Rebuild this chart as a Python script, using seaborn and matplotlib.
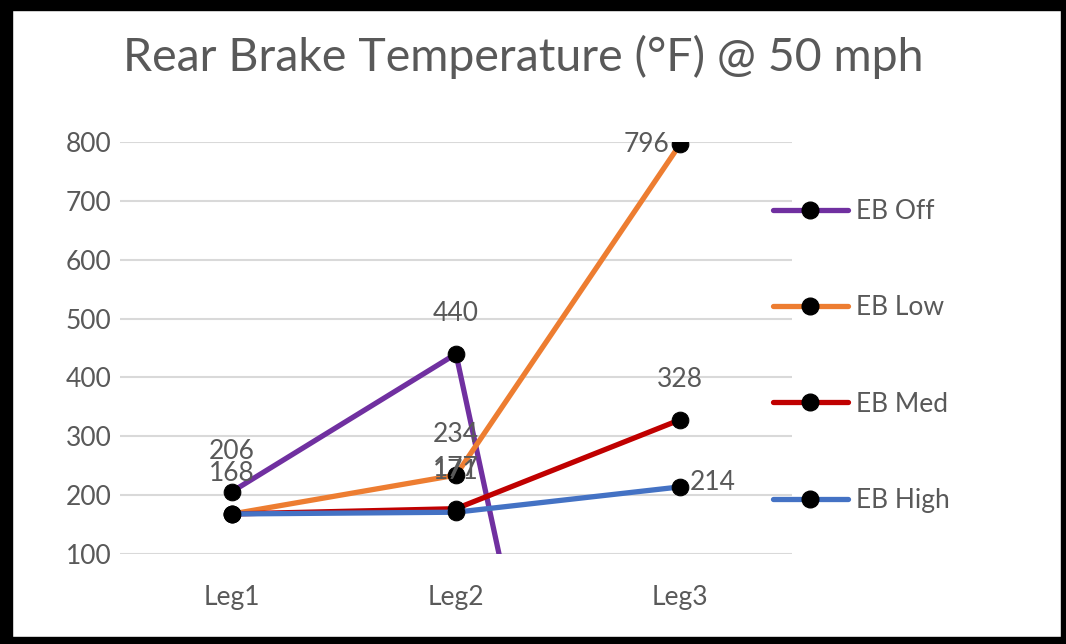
import matplotlib
matplotlib.use("Agg")
import matplotlib.pyplot as plt
import seaborn as sns
import pandas as pd
from matplotlib.patches import Rectangle
from matplotlib.lines import Line2D

# ---- data ----
legs = ["Leg1", "Leg2", "Leg3"]
series_names = ["EB Off", "EB Low", "EB Med", "EB High"]
eb_off = [206, 440, -1330]
eb_low = [168, 234, 796]
eb_med = [168, 177, 328]
eb_high = [168, 171, 214]
y_ticks = [100, 200, 300, 400, 500, 600, 700, 800]
title = "Rear Brake Temperature (°F) @ 50 mph"

colors = ["#7030A0", "#ED7D31", "#C00000", "#4472C4"]
values = [eb_off, eb_low, eb_med, eb_high]
# label placement per series per point: 'above', 'left', 'right', None
placements = [
    ["above", "above", None],
    ["above", "above", "left"],
    [None, "above", "above"],
    [None, "above", "right"],
]

sns.set_theme(style="white")
FONT = ["Lato", "DejaVu Sans"]
plt.rcParams["font.family"] = FONT
TXT = "#595959"
FS = 19

fig = plt.figure(figsize=(10.66, 6.44), dpi=100)
ax = fig.add_axes([120 / 1066, 90 / 644, 672 / 1066, 412 / 644])

frames = []
for name, vals in zip(series_names, values):
    frames.append(pd.DataFrame({"leg": legs, "temp": vals, "series": name}))
df = pd.concat(frames, ignore_index=True)

for name, col in zip(series_names, colors):
    sub = df[df["series"] == name]
    sns.lineplot(data=sub, x="leg", y="temp", ax=ax, color=col, linewidth=3.8,
                 marker="o", markersize=12, markerfacecolor="black",
                 markeredgecolor="black", sort=False, legend=False, zorder=3)

ax.set_xlim(-0.5, 2.5)
ax.set_ylim(100, 800)
ax.set_yticks(y_ticks)
ax.set_yticklabels([str(t) for t in y_ticks])
ax.grid(axis="y", color="#D9D9D9", linewidth=1.5)
ax.grid(axis="x", visible=False)
ax.set_axisbelow(True)
for s in ax.spines.values():
    s.set_visible(False)
ax.tick_params(axis="y", length=0, pad=6, labelsize=FS, labelcolor=TXT)
ax.tick_params(axis="x", length=0, pad=22, labelsize=FS, labelcolor=TXT)
ax.set_xlabel("")
ax.set_ylabel("")

# data labels
for vals, plc in zip(values, placements):
    for i, (v, p) in enumerate(zip(vals, plc)):
        if p is None or v < 100 or v > 800:
            continue
        if p == "above":
            ax.annotate(str(v), (i, v), xytext=(0, 29), textcoords="offset points",
                        ha="center", va="center", fontsize=FS, color=TXT, zorder=4)
        elif p == "left":
            ax.annotate(str(v), (i, v), xytext=(-8, 0), textcoords="offset points",
                        ha="right", va="center", fontsize=FS, color=TXT, zorder=4)
        elif p == "right":
            ax.annotate(str(v), (i, v), xytext=(7, 3), textcoords="offset points",
                        ha="left", va="center", fontsize=FS, color=TXT, zorder=4)

# legend
handles = [Line2D([0], [0], color=c, linewidth=3.8, marker="o", markersize=12,
                  markerfacecolor="black", markeredgecolor="black")
           for c in colors]
fig.legend(handles, series_names, loc="center left",
           bbox_to_anchor=(773 / 1066, 1 - 356 / 644), frameon=False,
           fontsize=FS, labelcolor=TXT, handlelength=2.84, handletextpad=0.3,
           labelspacing=2.7, borderpad=0, borderaxespad=0)

fig.text(523 / 1066, 1 - 57 / 644, title, ha="center", va="center",
         fontsize=33.5, color=TXT)

# black frame around the image
W, H = 1066, 644
def rect(x0, y0, w, h):
    fig.patches.append(Rectangle((x0 / W, 1 - (y0 + h) / H), w / W, h / H,
                                 transform=fig.transFigure, color="black",
                                 zorder=10))
rect(0, 0, W, 10)       # top
rect(0, 0, 12, H)       # left
rect(0, 637, W, 7)      # bottom
rect(1061, 0, 5, H)     # right

fig.savefig("out.png", dpi=100)
